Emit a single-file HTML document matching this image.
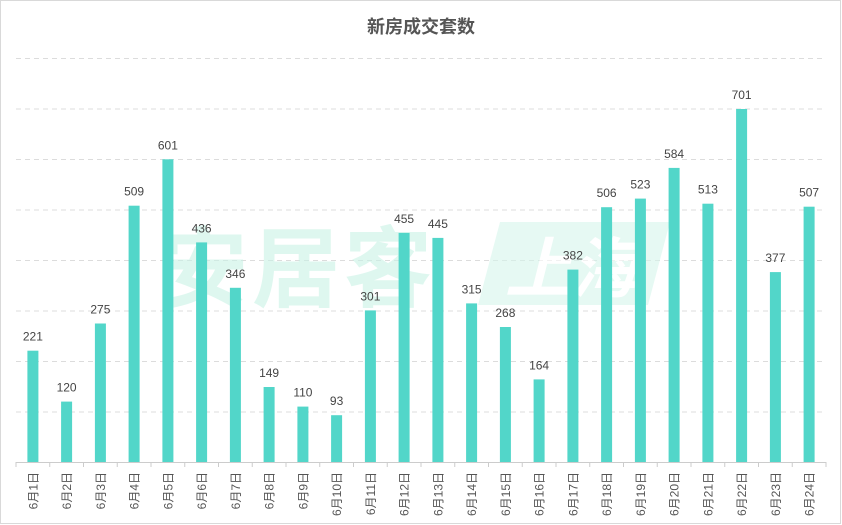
<!DOCTYPE html>
<html><head><meta charset="utf-8"><style>
html,body{margin:0;padding:0;background:#fff;}
svg{display:block;font-family:"Liberation Sans","Noto Sans CJK SC",sans-serif;}
</style></head><body>
<svg width="842" height="525" viewBox="0 0 842 525" xmlns="http://www.w3.org/2000/svg">
<rect x="0.5" y="0.5" width="840" height="523" fill="#fff" stroke="#d9d9d9"/>
<text x="421" y="33" text-anchor="middle" font-size="18" font-weight="bold" fill="#555">新房成交套数</text>
<g stroke="#dcdcdc" stroke-dasharray="5,4" stroke-width="1">
<line x1="16" x2="826" y1="58.5" y2="58.5"/><line x1="16" x2="826" y1="109" y2="109"/>
<line x1="16" x2="826" y1="159.5" y2="159.5"/><line x1="16" x2="826" y1="210" y2="210"/>
<line x1="16" x2="826" y1="260.5" y2="260.5"/><line x1="16" x2="826" y1="311" y2="311"/>
<line x1="16" x2="826" y1="361.5" y2="361.5"/><line x1="16" x2="826" y1="412" y2="412"/>
</g>
<g opacity="0.6">
<text x="160" y="300" font-size="88" font-weight="bold" fill="#c9f3e6" letter-spacing="4">安居客</text>
<path d="M500 222 L670 222 L648 305 L478 305 Z" fill="#d6f6ec"/>
<text x="505" y="292" font-size="66" font-weight="bold" fill="#fff" font-style="italic">上海</text>
</g>
<g fill="#52d6c9">
<rect x="27.4" y="350.7" width="11" height="111.3"/>
<rect x="61.1" y="401.6" width="11" height="60.4"/>
<rect x="94.9" y="323.5" width="11" height="138.5"/>
<rect x="128.6" y="205.7" width="11" height="256.3"/>
<rect x="162.4" y="159.3" width="11" height="302.7"/>
<rect x="196.1" y="242.4" width="11" height="219.6"/>
<rect x="229.9" y="287.8" width="11" height="174.2"/>
<rect x="263.6" y="387" width="11" height="75"/>
<rect x="297.4" y="406.6" width="11" height="55.4"/>
<rect x="331.1" y="415.2" width="11" height="46.8"/>
<rect x="364.9" y="310.4" width="11" height="151.6"/>
<rect x="398.6" y="232.9" width="11" height="229.1"/>
<rect x="432.4" y="237.9" width="11" height="224.1"/>
<rect x="466.1" y="303.4" width="11" height="158.6"/>
<rect x="499.9" y="327" width="11" height="135"/>
<rect x="533.6" y="379.4" width="11" height="82.6"/>
<rect x="567.4" y="269.6" width="11" height="192.4"/>
<rect x="601.1" y="207.2" width="11" height="254.8"/>
<rect x="634.9" y="198.6" width="11" height="263.4"/>
<rect x="668.6" y="167.9" width="11" height="294.1"/>
<rect x="702.4" y="203.7" width="11" height="258.3"/>
<rect x="736.1" y="109" width="11" height="353"/>
<rect x="769.9" y="272.1" width="11" height="189.9"/>
<rect x="803.6" y="206.7" width="11" height="255.3"/>
</g>
<g font-size="12" fill="#444" text-anchor="middle" transform="translate(0,-3)">
<text x="32.9" y="343.7">221</text><text x="66.6" y="394.6">120</text><text x="100.4" y="316.5">275</text>
<text x="134.1" y="198.7">509</text><text x="167.9" y="152.3">601</text><text x="201.6" y="235.4">436</text>
<text x="235.4" y="280.8">346</text><text x="269.1" y="380">149</text><text x="302.9" y="399.6">110</text>
<text x="336.6" y="408.2">93</text><text x="370.4" y="303.4">301</text><text x="404.1" y="225.9">455</text>
<text x="437.9" y="230.9">445</text><text x="471.6" y="296.4">315</text><text x="505.4" y="320">268</text>
<text x="539.1" y="372.4">164</text><text x="572.9" y="262.6">382</text><text x="606.6" y="200.2">506</text>
<text x="640.4" y="191.6">523</text><text x="674.1" y="160.9">584</text><text x="707.9" y="196.7">513</text>
<text x="741.6" y="102">701</text><text x="775.4" y="265.1">377</text><text x="809.1" y="199.7">507</text>
</g>
<g stroke="#ccc" stroke-width="1">
<line x1="16" x2="826" y1="462.5" y2="462.5"/>
<line x1="16" x2="16" y1="462" y2="467"/><line x1="49.75" x2="49.75" y1="462" y2="467"/>
<line x1="83.5" x2="83.5" y1="462" y2="467"/><line x1="117.25" x2="117.25" y1="462" y2="467"/>
<line x1="151" x2="151" y1="462" y2="467"/><line x1="184.75" x2="184.75" y1="462" y2="467"/>
<line x1="218.5" x2="218.5" y1="462" y2="467"/><line x1="252.25" x2="252.25" y1="462" y2="467"/>
<line x1="286" x2="286" y1="462" y2="467"/><line x1="319.75" x2="319.75" y1="462" y2="467"/>
<line x1="353.5" x2="353.5" y1="462" y2="467"/><line x1="387.25" x2="387.25" y1="462" y2="467"/>
<line x1="421" x2="421" y1="462" y2="467"/><line x1="454.75" x2="454.75" y1="462" y2="467"/>
<line x1="488.5" x2="488.5" y1="462" y2="467"/><line x1="522.25" x2="522.25" y1="462" y2="467"/>
<line x1="556" x2="556" y1="462" y2="467"/><line x1="589.75" x2="589.75" y1="462" y2="467"/>
<line x1="623.5" x2="623.5" y1="462" y2="467"/><line x1="657.25" x2="657.25" y1="462" y2="467"/>
<line x1="691" x2="691" y1="462" y2="467"/><line x1="724.75" x2="724.75" y1="462" y2="467"/>
<line x1="758.5" x2="758.5" y1="462" y2="467"/><line x1="792.25" x2="792.25" y1="462" y2="467"/>
<line x1="826" x2="826" y1="462" y2="467"/>
</g>
<g font-size="12" fill="#555" text-anchor="end">
<text transform="translate(37.4,472) rotate(-90)">6月1日</text>
<text transform="translate(71.1,472) rotate(-90)">6月2日</text>
<text transform="translate(104.9,472) rotate(-90)">6月3日</text>
<text transform="translate(138.6,472) rotate(-90)">6月4日</text>
<text transform="translate(172.4,472) rotate(-90)">6月5日</text>
<text transform="translate(206.1,472) rotate(-90)">6月6日</text>
<text transform="translate(239.9,472) rotate(-90)">6月7日</text>
<text transform="translate(273.6,472) rotate(-90)">6月8日</text>
<text transform="translate(307.4,472) rotate(-90)">6月9日</text>
<text transform="translate(341.1,472) rotate(-90)">6月10日</text>
<text transform="translate(374.9,472) rotate(-90)">6月11日</text>
<text transform="translate(408.6,472) rotate(-90)">6月12日</text>
<text transform="translate(442.4,472) rotate(-90)">6月13日</text>
<text transform="translate(476.1,472) rotate(-90)">6月14日</text>
<text transform="translate(509.9,472) rotate(-90)">6月15日</text>
<text transform="translate(543.6,472) rotate(-90)">6月16日</text>
<text transform="translate(577.4,472) rotate(-90)">6月17日</text>
<text transform="translate(611.1,472) rotate(-90)">6月18日</text>
<text transform="translate(644.9,472) rotate(-90)">6月19日</text>
<text transform="translate(678.6,472) rotate(-90)">6月20日</text>
<text transform="translate(712.4,472) rotate(-90)">6月21日</text>
<text transform="translate(746.1,472) rotate(-90)">6月22日</text>
<text transform="translate(779.9,472) rotate(-90)">6月23日</text>
<text transform="translate(813.6,472) rotate(-90)">6月24日</text>
</g>
</svg>
</body></html>
